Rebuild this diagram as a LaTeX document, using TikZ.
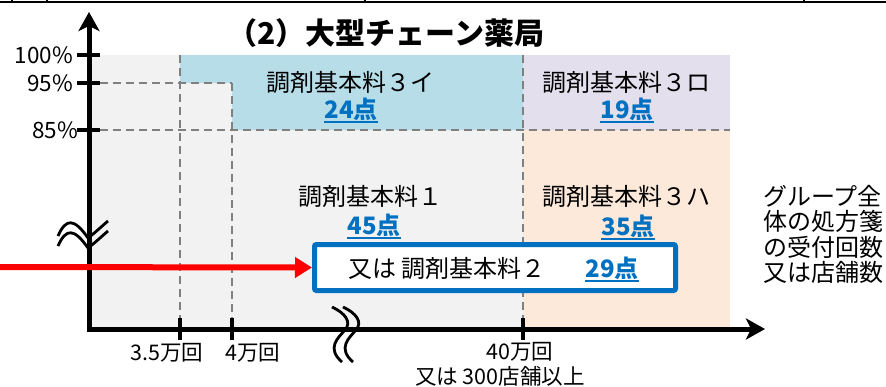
\documentclass[tikz,border=0pt]{standalone}
\usepackage{fontspec}
\setmainfont{Noto Sans CJK JP}
\usetikzlibrary{arrows.meta}
\definecolor{regGray}{HTML}{F2F2F2}
\definecolor{regBlue}{HTML}{B7DEE8}
\definecolor{regLav}{HTML}{E4DFEC}
\definecolor{regPeach}{HTML}{FDE9D9}
\definecolor{ptBlue}{HTML}{0070C0}
\definecolor{dashGray}{HTML}{808080}
\definecolor{arrRed}{HTML}{FF0000}
\newcommand\ptlabel[3]{\node[pts] (#1) at (#2) {#3};
  \draw[ptBlue,line width=2pt] ([yshift=-3.5pt]#1.base west) -- ([yshift=-3.5pt]#1.base east);}
\begin{document}
\begin{tikzpicture}[x=1pt,y=-1pt,
  axis/.style={line width=5pt,black},
  tickmark/.style={line width=4.5pt,black},
  gridline/.style={dashGray,line width=2.5pt,dash pattern=on 8pt off 5pt},
  lbl/.style={font=\fontsize{24}{28}\selectfont,inner sep=0pt},
  pts/.style={font=\fontsize{24}{28}\selectfont\bfseries,text=ptBlue,inner sep=0pt},
  small/.style={font=\fontsize{22.5}{26}\selectfont,inner sep=0pt},
  xlab/.style={font=\fontsize{21.5}{25}\selectfont,inner sep=0pt},
  brk/.style={line width=2.8pt,black}]
\useasboundingbox (0,0) rectangle (886,386);
% top border fragment
\draw[line width=2.5pt] (0,2) -- (886,2);
\foreach \tx in {12,47,365,804} \draw[line width=1.2pt] (\tx,0) -- (\tx,2);
% regions
\fill[regGray] (89,55) rectangle (523,329);
\fill[regBlue] (180,55) -- (523,55) -- (523,130) -- (232,130) -- (232,83) -- (180,83) -- cycle;
\fill[regLav] (523,55) rectangle (730,130);
\fill[regPeach] (523,130) rectangle (730,329);
% dashed grid
\draw[gridline] (100,83) -- (232,83);
\draw[gridline] (100,130) -- (730,130);
\draw[gridline] (180,55) -- (180,320);
\draw[gridline] (232,83) -- (232,320);
\draw[gridline] (523,55) -- (523,320);
% axes
\coordinate (yb) at (89,331.5);
\coordinate (yt) at (89,12);
\coordinate (xb) at (86.5,329);
\coordinate (xe) at (765,329);
\draw[axis,-{Stealth[length=19pt,width=21pt,inset=5pt]}] (yb) -- (yt);
\draw[axis,-{Stealth[length=19pt,width=21pt,inset=5pt]}] (xb) -- (xe);
% y ticks
\foreach \ty in {55,83,130} \draw[tickmark] (77,\ty) -- (100,\ty);
\node[small,anchor=east] (p100) at (73,55) {100\%};
\node[small,anchor=east] (p95) at (73,83) {95\%};
\node[small,anchor=east] (p85) at (78,130) {85\%};
% x ticks
\foreach \tx in {180,232,523} \draw[tickmark] (\tx,318) -- (\tx,340);
\node[xlab] (x35) at (167,353) {3.5万回};
\node[xlab] (x4) at (253,353) {4万回};
\node[xlab] (x40) at (520,352) {40万回};
\node[xlab] (x300) at (500,376) {又は 300店舗以上};
% axis breaks
\foreach \dy in {0,10}
  \draw[brk] (58,236+\dy) .. controls (66,218+\dy) and (74,218+\dy) .. (88,238+\dy)
     .. controls (96,232+\dy) and (102,226+\dy) .. (108,221+\dy);
\foreach \dx in {0,11}
  \draw[brk] (332+\dx,307) .. controls (345+\dx,313) and (352+\dx,322) .. (345+\dx,330)
     .. controls (338+\dx,338) and (326+\dx,348) .. (342+\dx,362);
% title
\node[font=\fontsize{30}{34}\selectfont\bfseries,inner sep=0pt] (title) at (386,33) {（2）大型チェーン薬局};
% region labels
\node[lbl] (t3i) at (350,82) {調剤基本料３イ};
\ptlabel{n24}{351,109}{24点}
\node[lbl] (t3ro) at (626,82) {調剤基本料３ロ};
\ptlabel{n19}{627,109}{19点}
\node[lbl] (t1) at (370,196) {調剤基本料１};
\ptlabel{n45}{374,225}{45点}
\node[lbl] (t3ha) at (626,196) {調剤基本料３ハ};
\ptlabel{n35}{628,226}{35点}
% box
\node[draw=ptBlue,line width=5pt,fill=white,rounded corners=2pt,minimum width=361pt,minimum height=46pt,inner sep=0pt] (box) at (495,267.5) {};
\node[lbl,anchor=west] (t2) at (348,268) {又は 調剤基本料２};
\ptlabel{n29}{612,268}{29点}
% red arrow
\coordinate (rs) at (0,267);
\draw[arrRed,line width=6pt,-{Triangle[length=17pt,width=20pt]}] (rs) -- (box.west);
% right text
\node[font=\fontsize{24}{25.5}\selectfont,inner sep=0pt,align=left,anchor=north west] (rt) at (763,185) {グループ全\\体の処方箋\\の受付回数\\又は店舗数};
\end{tikzpicture}
\end{document}
